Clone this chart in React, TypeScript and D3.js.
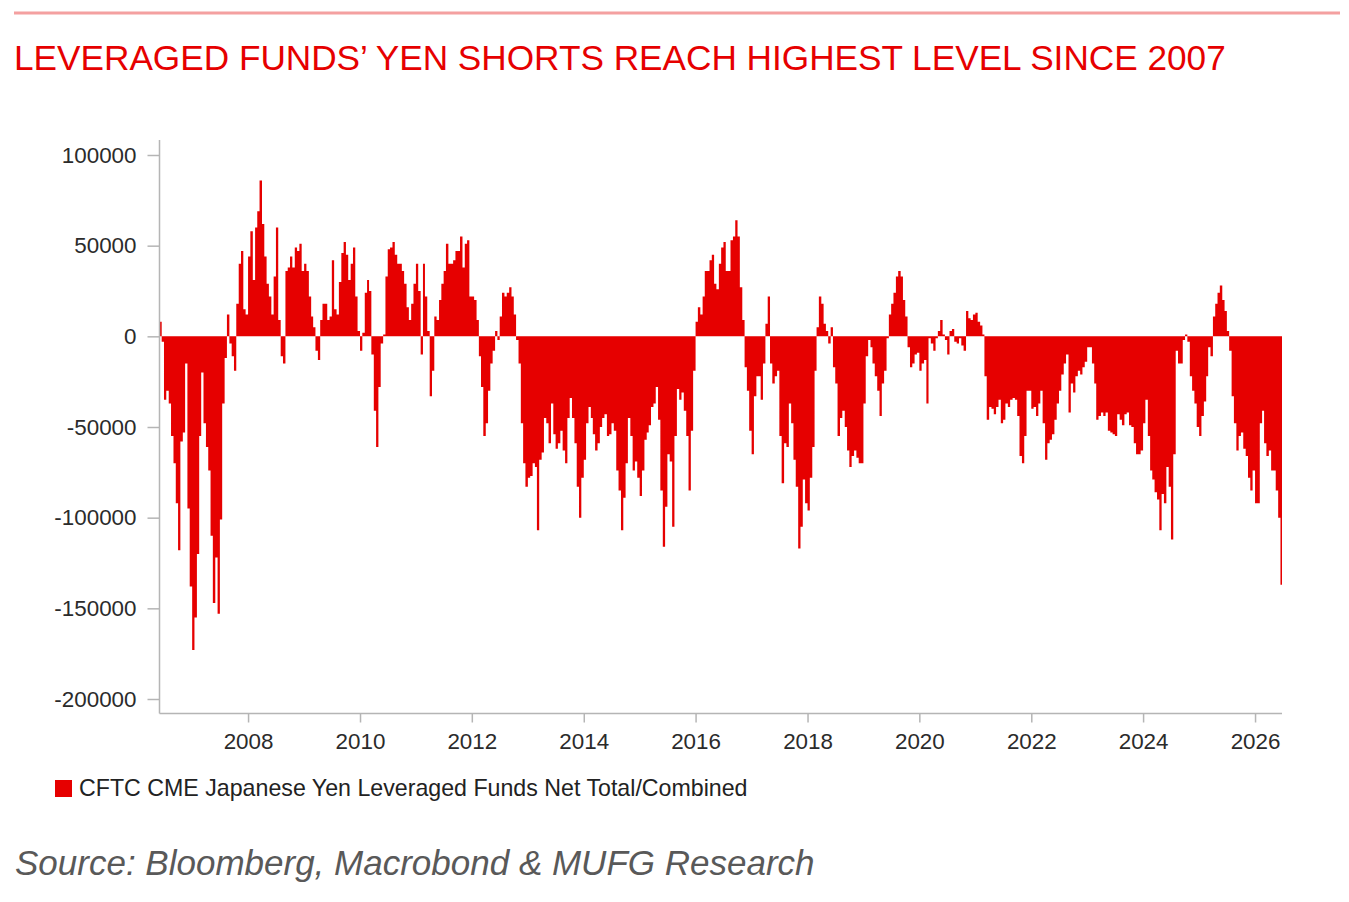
import * as React from "react";
import * as d3 from "d3";
import { useEffect, useRef } from "react";

// CFTC CME JPY leveraged funds net positions, read twice a month off the chart
const y2006 = [8000, -3000, -35000, -30000, -37000, -55000, -70000, -92000, -118000, -58000, -53000, -15000, -95000, -138000];
const y2007 = [-173000, -155000, -120000, -55000, -20000, -48000, -61000, -74000, -110000, -147000, -122000, -153000, -101000, -37000, -12000, 12000, -4000, -11000, -19000, 18000, 40000, 47000, 15000, 12000];
const y2008 = [44000, 58000, 31000, 60000, 69000, 86000, 62000, 44000, 29000, 22000, 12000, 33000, 60000, 9000, -11000, -15000, 36000, 38000, 44000, 38000, 49000, 47000, 51000, 36000];
const y2009 = [40000, 36000, 22000, 11000, 5000, -8000, -13000, 9000, 18000, 18000, 9000, 11000, 42000, 15000, 12000, 30000, 46000, 52000, 45000, 31000, 40000, 49000, 22000, 3000];
const y2010 = [-8000, 2000, 24000, 31000, 25000, -10000, -41000, -61000, -28000, -4000, 1000, 33000, 48000, 49000, 52000, 45000, 40000, 40000, 36000, 29000, 16000, 9000, 18000, 29000];
const y2011 = [40000, 25000, -10000, 40000, 22000, 3000, -33000, -19000, 11000, 9000, 20000, 29000, 36000, 51000, 40000, 40000, 42000, 47000, 47000, 55000, 38000, 51000, 53000, 22000];
const y2012 = [22000, 20000, 9000, -11000, -28000, -55000, -48000, -30000, -15000, -8000, 3000, -2000, 11000, 24000, 22000, 24000, 27000, 22000, 12000, -2000, -15000, -48000, -70000, -83000];
const y2013 = [-78000, -77000, -70000, -72000, -107000, -68000, -64000, -45000, -48000, -59000, -37000, -54000, -62000, -59000, -52000, -63000, -70000, -45000, -34000, -45000, -59000, -83000, -100000, -78000];
const y2014 = [-68000, -48000, -39000, -45000, -54000, -63000, -59000, -50000, -45000, -43000, -55000, -54000, -48000, -52000, -74000, -85000, -107000, -89000, -70000, -45000, -55000, -74000, -69000, -78000];
const y2015 = [-88000, -74000, -57000, -53000, -49000, -39000, -37000, -28000, -46000, -85000, -116000, -94000, -65000, -69000, -105000, -55000, -29000, -35000, -31000, -41000, -55000, -85000, -52000, -19000];
const y2016 = [8000, 16000, 12000, 22000, 36000, 36000, 42000, 45000, 29000, 26000, 40000, 49000, 52000, 36000, 36000, 53000, 55000, 64000, 55000, 27000, 9000, -17000, -30000, -52000];
const y2017 = [-65000, -33000, -22000, -22000, -35000, -15000, 7000, 22000, -15000, -26000, -22000, -19000, -55000, -81000, -59000, -61000, -37000, -48000, -68000, -83000, -117000, -105000, -79000, -92000];
const y2018 = [-96000, -78000, -61000, -19000, 5000, 22000, 18000, 7000, 3000, -4000, 5000, -17000, -26000, -55000, -45000, -41000, -50000, -63000, -72000, -66000, -63000, -67000, -70000, -70000];
const y2019 = [-37000, -11000, -2000, -6000, -15000, -22000, -30000, -44000, -26000, -19000, -1000, 12000, 18000, 24000, 33000, 36000, 33000, 20000, 11000, -6000, -17000, -15000, -10000, -9000];
const y2020 = [-19000, -15000, -13000, -37000, -1000, -4000, -8000, -1000, 3000, 9000, 1000, -2000, -10000, 3000, 4000, -3000, -4000, -1000, -5000, -8000, 14000, 10000, 9000, 12000];
const y2021 = [13000, 8000, 6000, 1000, -22000, -46000, -39000, -40000, -43000, -39000, -35000, -48000, -46000, -37000, -39000, -35000, -34000, -35000, -44000, -66000, -70000, -55000, -30000, -30000];
const y2022 = [-40000, -39000, -44000, -37000, -30000, -48000, -68000, -59000, -57000, -54000, -46000, -37000, -30000, -21000, -15000, -10000, -42000, -26000, -31000, -22000, -19000, -21000, -17000, -14000];
const y2023 = [-6000, -6000, -15000, -26000, -46000, -44000, -42000, -44000, -42000, -52000, -53000, -54000, -55000, -43000, -46000, -49000, -43000, -42000, -49000, -50000, -59000, -65000, -65000, -63000];
const y2024 = [-48000, -35000, -55000, -74000, -79000, -86000, -90000, -107000, -87000, -92000, -72000, -83000, -112000, -65000, -8000, -15000, -15000, -2000, 1000, -3000, -22000, -30000, -37000, -50000];
const y2025 = [-55000, -44000, -36000, -22000, -6000, -11000, 11000, 18000, 24000, 28000, 20000, 14000, 3000, -8000, -33000, -48000, -63000, -55000, -53000, -62000, -66000, -78000, -85000, -74000];
const y2026 = [-92000, -92000, -48000, -41000, -59000, -66000, -63000, -74000, -74000, -85000, -100000, -137000];

const years = [2006, 2007, 2008, 2009, 2010, 2011, 2012, 2013, 2014, 2015, 2016, 2017, 2018, 2019, 2020, 2021, 2022, 2023, 2024, 2025, 2026];
const yearValues = [y2006, y2007, y2008, y2009, y2010, y2011, y2012, y2013, y2014, y2015, y2016, y2017, y2018, y2019, y2020, y2021, y2022, y2023, y2024, y2025, y2026];
const firstSlot2006 = 10; // series starts in June 2006

const yTicks = [100000, 50000, 0, -50000, -100000, -150000, -200000];
const xTickYears = [2008, 2010, 2012, 2014, 2016, 2018, 2020, 2022, 2024, 2026];

const title = "LEVERAGED FUNDS\u2019 YEN SHORTS REACH HIGHEST LEVEL SINCE 2007";
const seriesName = "CFTC CME Japanese Yen Leveraged Funds Net Total/Combined";
const source = "Source: Bloomberg, Macrobond & MUFG Research";

const RED = "#e60000";
const FONT = "'Liberation Sans', Arial, Helvetica, sans-serif";

const App = () => {
  const svgRef = useRef<SVGSVGElement>(null);

  useEffect(() => {
    const W = 1349;
    const H = 902;
    const left = 160;
    const right = 1282;
    const top = 155;
    const bottom = 699;
    const axisY = 713;

    const svg = d3.select(svgRef.current);
    svg.selectAll("*").remove();
    svg.attr("width", W).attr("height", H);

    const points: { date: Date; value: number }[] = [];
    years.forEach((yr, i) => {
      const start = yr === 2006 ? firstSlot2006 : 0;
      yearValues[i].forEach((v, k) => {
        const s = start + k;
        points.push({ date: new Date(yr, Math.floor(s / 2), s % 2 === 0 ? 1 : 16), value: v });
      });
    });
    const last = points[points.length - 1];
    points.push({ date: new Date(2026, 6, 1), value: last.value });

    const x = d3
      .scaleTime()
      .domain([new Date(2006, 5, 5), new Date(2026, 5, 26)])
      .range([left, right]);
    const y = d3.scaleLinear().domain([-200000, 100000]).range([bottom, top]);

    // header
    svg
      .append("line")
      .attr("x1", 14)
      .attr("x2", 1340)
      .attr("y1", 13)
      .attr("y2", 13)
      .attr("stroke", "#f4a0a0")
      .attr("stroke-width", 3);

    svg
      .append("text")
      .attr("x", 14)
      .attr("y", 70)
      .attr("font-family", FONT)
      .attr("font-size", 35.2)
      .attr("fill", RED)
      .text(title);

    // bars
    svg
      .append("defs")
      .append("clipPath")
      .attr("id", "plotclip")
      .append("rect")
      .attr("x", left)
      .attr("y", 100)
      .attr("width", right - left)
      .attr("height", 620);

    const area = d3
      .area<{ date: Date; value: number }>()
      .x((d) => x(d.date))
      .y0(y(0))
      .y1((d) => y(d.value))
      .curve(d3.curveStepAfter);

    svg
      .append("path")
      .datum(points)
      .attr("clip-path", "url(#plotclip)")
      .attr("fill", RED)
      .attr("d", area);

    // axes
    const yAxis = d3
      .axisLeft(y)
      .tickValues(yTicks)
      .tickSize(12)
      .tickPadding(11)
      .tickFormat((d) => String(d));
    const gy = svg.append("g").attr("transform", `translate(${left - 0.5},0)`).call(yAxis);
    gy.select(".domain").remove();

    const xAxis = d3
      .axisBottom(x)
      .tickValues(xTickYears.map((yr) => new Date(yr, 0, 1)))
      .tickSize(9)
      .tickPadding(11)
      .tickFormat((d) => d3.timeFormat("%Y")(d as Date));
    const gx = svg.append("g").attr("transform", `translate(0,${axisY + 0.5})`).call(xAxis);
    gx.select(".domain").remove();

    [gx, gy].forEach((g) => {
      g.selectAll("line").attr("stroke", "#b5b5b5").attr("stroke-width", 1.5);
      g.selectAll("text").attr("font-family", FONT).attr("font-size", 22.4).attr("fill", "#2b2b2b");
    });

    svg
      .append("line")
      .attr("x1", left - 0.5)
      .attr("x2", left - 0.5)
      .attr("y1", 140)
      .attr("y2", axisY + 0.5)
      .attr("stroke", "#b5b5b5")
      .attr("stroke-width", 1.5);
    svg
      .append("line")
      .attr("x1", left - 0.5)
      .attr("x2", right)
      .attr("y1", axisY + 0.5)
      .attr("y2", axisY + 0.5)
      .attr("stroke", "#b5b5b5")
      .attr("stroke-width", 1.5);

    // legend
    svg.append("rect").attr("x", 55).attr("y", 780).attr("width", 17).attr("height", 17).attr("fill", RED);
    svg
      .append("text")
      .attr("x", 79)
      .attr("y", 796)
      .attr("font-family", FONT)
      .attr("font-size", 23.2)
      .attr("fill", "#222")
      .text(seriesName);

    // source
    svg
      .append("text")
      .attr("x", 15)
      .attr("y", 875)
      .attr("font-family", FONT)
      .attr("font-size", 35)
      .attr("font-style", "italic")
      .attr("fill", "#595959")
      .text(source);
  }, []);

  return (
    <div style={{ position: "absolute", left: 0, top: 0, background: "#fff" }}>
      <svg ref={svgRef} style={{ display: "block" }}></svg>
    </div>
  );
};

export default App;
